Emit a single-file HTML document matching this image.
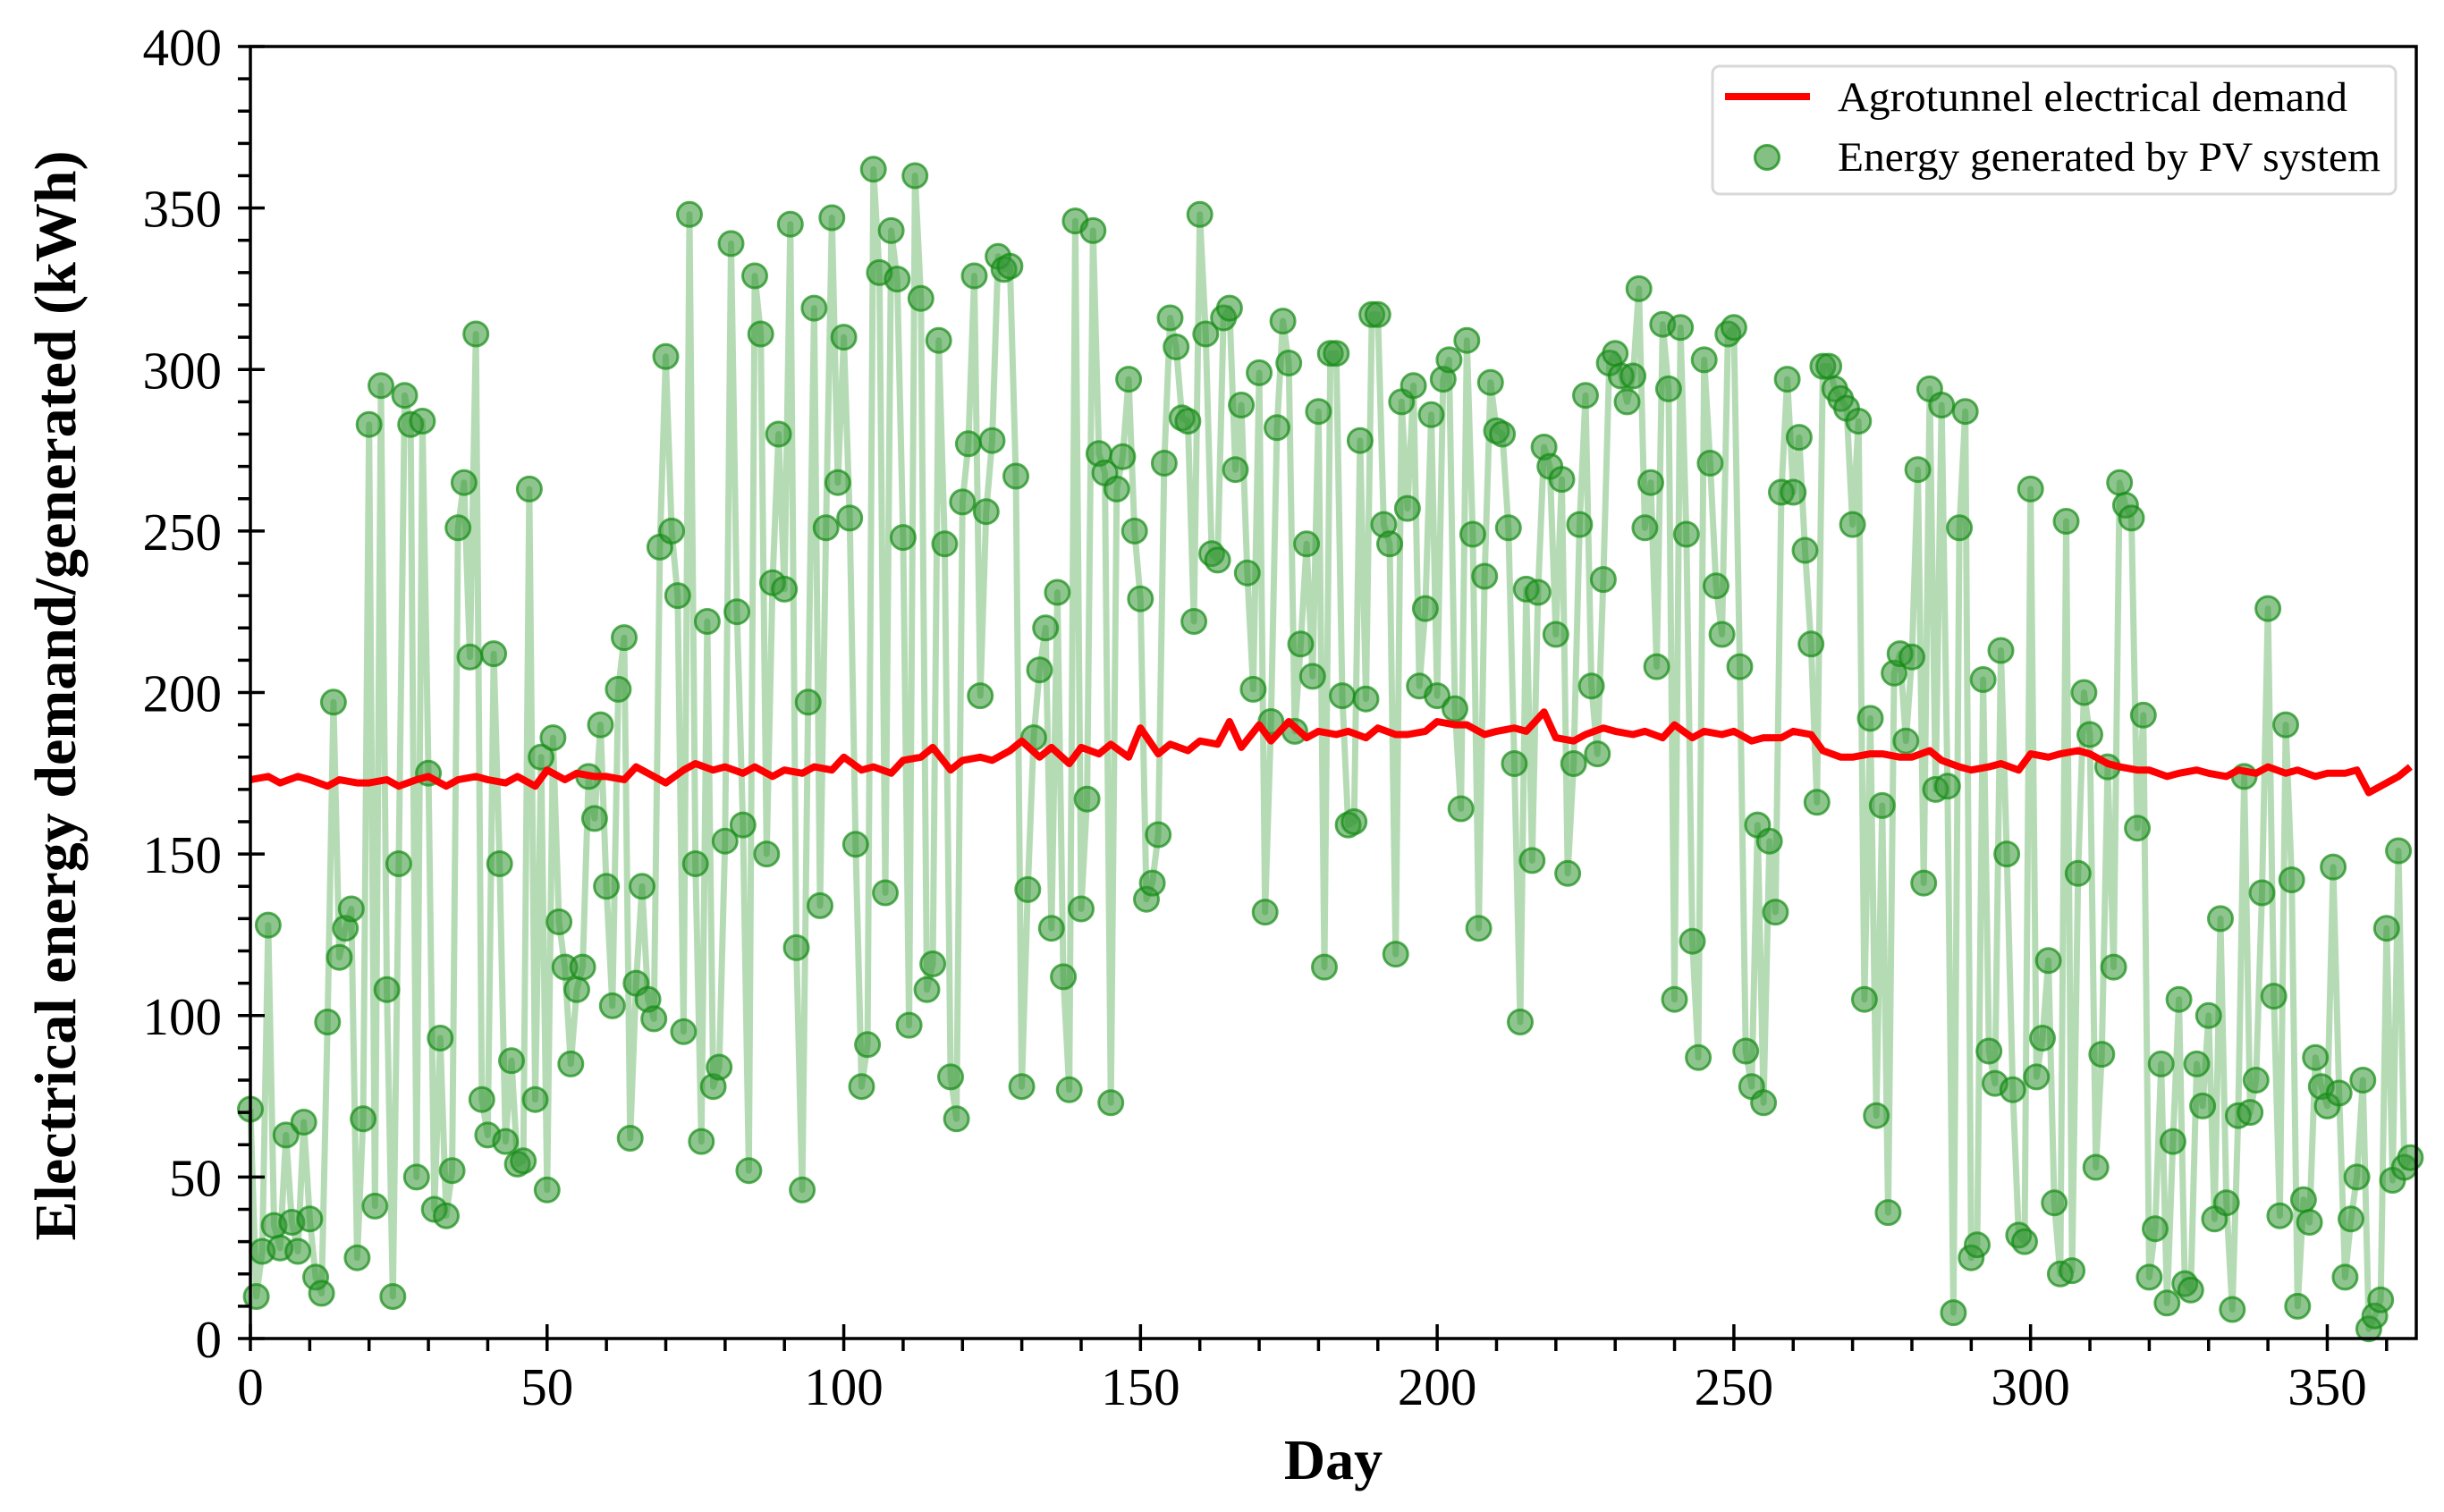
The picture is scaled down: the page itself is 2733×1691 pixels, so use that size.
<!DOCTYPE html>
<html><head><meta charset="utf-8"><style>
html,body{margin:0;padding:0;background:#fff;}
svg{display:block;font-family:"Liberation Serif",serif;}
</style></head><body>
<svg id="chart" width="2733" height="1691" viewBox="0 0 2733 1691" xmlns="http://www.w3.org/2000/svg">
<rect width="2733" height="1691" fill="#fff"/>
<g id="series"></g>
<g id="axes"></g>
<text transform="translate(84,778) rotate(-90)" text-anchor="middle" font-size="66" font-weight="bold">Electrical energy demand/generated (kWh)</text>
<text x="1491" y="1654" text-anchor="middle" font-size="64" font-weight="bold">Day</text>
<g>
<rect x="1915" y="74" width="764" height="143" rx="8" fill="#fff" stroke="#d8d8d8" stroke-width="3"/>
<line x1="1929" y1="108" x2="2024" y2="108" stroke="#f00" stroke-width="8"/>
<text x="2055" y="124" font-size="47" textLength="570" lengthAdjust="spacingAndGlyphs">Agrotunnel electrical demand</text>
<circle cx="1976" cy="176" r="13.5" fill="rgba(50,150,50,0.6)" stroke="rgba(20,140,20,0.75)" stroke-width="3"/>
<text x="2055" y="191" font-size="47" textLength="607" lengthAdjust="spacingAndGlyphs">Energy generated by PV system</text>
</g>
</svg>
<script>
const pvValues=[71,13,27,128,35,28,63,36,27,67,37,19,14,98,197,118,127,133,25,68,283,41,295,108,13,147,292,283,50,284,175,40,93,38,52,251,265,211,311,74,63,212,147,61,86,54,55,263,74,180,46,186,129,115,85,108,115,174,161,190,140,103,201,217,62,110,140,105,99,245,304,250,230,95,348,147,61,222,78,84,154,339,225,159,52,329,311,150,234,280,232,345,121,46,197,319,134,251,347,265,310,254,153,78,91,362,330,138,343,328,248,97,360,322,108,116,309,246,81,68,259,277,329,199,256,278,335,331,332,267,78,139,186,207,220,127,231,112,77,346,133,167,343,274,268,73,263,273,297,250,229,136,141,156,271,316,307,285,284,222,348,311,243,241,316,319,269,289,237,201,299,132,191,282,315,302,188,215,246,205,287,115,305,305,199,159,160,278,198,317,317,252,246,119,290,257,295,202,226,286,199,297,303,195,164,309,249,127,236,296,281,280,251,178,98,232,148,231,276,270,218,266,144,178,252,292,202,181,235,302,305,298,290,298,325,251,265,208,314,294,105,313,249,123,87,303,271,233,218,311,313,208,89,78,159,73,154,132,262,297,262,279,244,215,166,301,301,294,291,288,252,284,105,192,69,165,39,206,212,185,211,269,141,294,170,289,171,8,251,287,25,29,204,89,79,213,150,77,32,30,263,81,93,117,42,20,253,21,144,200,187,53,88,177,115,265,258,254,158,193,19,34,85,11,61,105,17,15,85,72,100,37,130,42,9,69,174,70,80,138,226,106,38,190,142,10,43,36,87,78,72,146,76,19,37,50,80,3,7,12,127,49,151,53,56];
const demandDays=[0,3,5,8,10,13,15,18,20,23,25,28,30,33,35,38,40,43,45,48,50,53,55,58,60,63,65,68,70,73,75,78,80,83,85,88,90,93,95,98,100,103,105,108,110,113,115,118,120,123,125,128,130,133,135,138,140,143,145,148,150,153,155,158,160,163,165,167,170,172,175,178,180,183,185,188,190,193,195,198,200,203,205,208,210,213,215,218,220,223,225,228,230,233,235,238,240,243,245,248,250,253,255,258,260,263,265,268,270,273,275,278,280,283,285,288,290,293,295,298,300,303,305,308,310,313,315,318,320,323,325,328,330,333,335,338,340,343,345,348,350,353,355,357,360,362,364];
const demandValues=[173,174,172,174,173,171,173,172,172,173,171,173,174,171,173,174,173,172,174,171,176,173,175,174,174,173,177,174,172,176,178,176,177,175,177,174,176,175,177,176,180,176,177,175,179,180,183,176,179,180,179,182,185,180,183,178,183,181,184,180,189,181,184,182,185,184,191,183,190,185,191,186,188,187,188,186,189,187,187,188,191,190,190,187,188,189,188,194,186,185,187,189,188,187,188,186,190,186,188,187,188,185,186,186,188,187,182,180,180,181,181,180,180,182,179,177,176,177,178,176,181,180,181,182,181,178,177,176,176,174,175,176,175,174,176,175,177,175,176,174,175,175,176,169,172,174,177];
const xTicks=[0,50,100,150,200,250,300,350];
const yTicks=[0,50,100,150,200,250,300,350,400];
const X0=280,X1=2702,Y0=1497,Y1=52,XMAX=365,YMAX=400;
const xs=d=>X0+d*(X1-X0)/XMAX;
const ys=v=>Y0-v*(Y0-Y1)/YMAX;
const NS="http://www.w3.org/2000/svg";
const series=document.getElementById('series');
const axes=document.getElementById('axes');
function mk(tag,attrs,parent){const e=document.createElementNS(NS,tag);for(const k in attrs)e.setAttribute(k,attrs[k]);parent.appendChild(e);return e;}
let pts=pvValues.map((v,i)=>xs(i).toFixed(1)+','+ys(v).toFixed(1)).join(' ');
const pvLine=mk('polyline',{points:pts,fill:'none',stroke:'rgba(120,190,120,0.55)','stroke-width':7,'stroke-linejoin':'round'},series);


pvValues.forEach((v,i)=>{
  const c=mk('circle',{cx:xs(i).toFixed(1),cy:ys(v).toFixed(1),r:13.5,fill:'rgba(50,150,50,0.55)',stroke:'rgba(20,140,20,0.7)','stroke-width':3},series);
  
  
});
let dpts=demandDays.map((d,i)=>xs(d).toFixed(1)+','+ys(demandValues[i]).toFixed(1)).join(' ');
const dl=mk('polyline',{points:dpts,fill:'none',stroke:'#f00','stroke-width':8,'stroke-linejoin':'round'},series);


const fr=mk('rect',{x:X0,y:Y1,width:X1-X0,height:Y0-Y1,fill:'none',stroke:'#000','stroke-width':3.5},axes);


for(let d=0;d<=360;d+=10){
  const major=d%50===0;
  const t=mk('line',{x1:xs(d),x2:xs(d),y1:major?Y0-16:Y0,y2:Y0+14,stroke:'#000','stroke-width':3.5},axes);
  
  
}
for(let v=0;v<=400;v+=10){
  const major=v%50===0;
  const t=mk('line',{x1:X0-14,x2:major?X0+16:X0,y1:ys(v),y2:ys(v),stroke:'#000','stroke-width':3.5},axes);
  
  
}
xTicks.forEach(d=>{
  const t=mk('text',{x:xs(d),y:Y0+74,'text-anchor':'middle','font-size':59},axes);
  t.textContent=d;
  
  
});
yTicks.forEach(v=>{
  const t=mk('text',{x:248,y:ys(v)+21,'text-anchor':'end','font-size':59},axes);
  t.textContent=v;
  
  
});
</script>
</body></html>
